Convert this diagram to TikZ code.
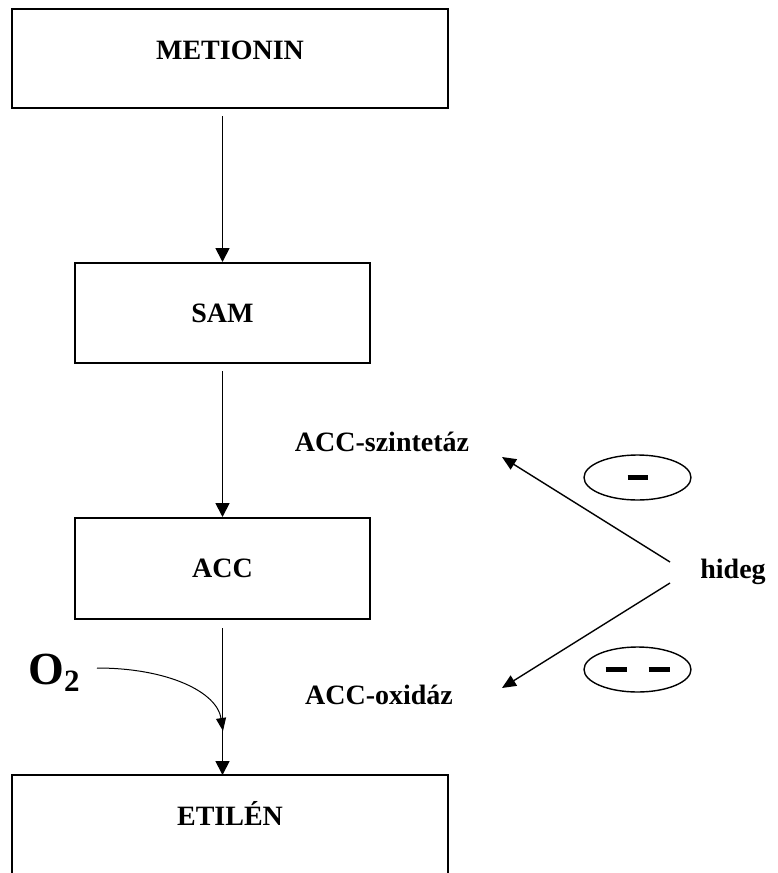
\documentclass[tikz,border=0pt]{standalone}
\usepackage{fontspec}
\setmainfont{Liberation Serif}
\usetikzlibrary{arrows.meta,shapes.geometric}
\begin{document}
\begin{tikzpicture}[x=1pt,y=-1pt,
  font=\fontsize{28}{30}\selectfont\bfseries,
  box/.style={draw, line width=2pt, inner sep=0pt},
  flowarrow/.style={line width=1.8pt, -{Triangle[length=14pt,width=14pt]}},
  coldarrow/.style={line width=1.4pt, -{Triangle[length=14pt,width=12pt]}},
  oxarrow/.style={line width=1pt, -{Triangle[length=13pt,width=10pt]}},
  oval/.style={draw, line width=1.4pt, ellipse, minimum width=107pt, minimum height=45pt, inner sep=0pt},
  lbl/.style={inner sep=0pt}]
\useasboundingbox (0,0) rectangle (778,873);
\clip (0,0) rectangle (778,873);
% boxes
\node[box, minimum width=436pt, minimum height=99pt, text depth=16pt] (metionin) at (230,58.5) {METIONIN};
\node[box, minimum width=295pt, minimum height=100pt] (sam) at (222.5,313) {SAM};
\node[box, minimum width=295pt, minimum height=101pt] (acc) at (222.5,568.5) {ACC};
\node[lbl, minimum width=436pt, minimum height=76pt, anchor=north] (etilen) at (230,775) {ETIL\'EN};
\draw[line width=2pt] ([yshift=-60pt]etilen.south west) -- (etilen.north west) -- (etilen.north east) -- ([yshift=-60pt]etilen.south east);
% main arrows
\draw[flowarrow] ([yshift=-7pt]sam.north |- metionin.south) -- (sam.north);
\draw[flowarrow] ([yshift=-7pt]sam.south) -- (acc.north);
\draw[flowarrow] ([yshift=-8pt]acc.south) -- (acc.south |- etilen.north);
% O2
\node[lbl, font=\fontsize{46}{48}\selectfont\bfseries] (o2) at (54,673) {O\raisebox{-7pt}{\fontsize{31}{31}\selectfont 2}};
\coordinate (o2start) at (97,668);
\coordinate (o2end) at (223,731);
\draw[oxarrow] (o2start) .. controls (168,668) and (217,692) .. (o2end);
% enzyme labels
\node[lbl] (szint) at (382,442) {ACC-szintetáz};
\node[lbl] (oxid) at (379,695) {ACC-oxidáz};
\node[lbl] (hideg) at (733,572) {hideg};
\coordinate (h1) at (670,562);
\coordinate (h2) at (670,583);
\coordinate (t1) at (502,457);
\coordinate (t2) at (502,688);
\draw[coldarrow] (h1) -- (t1);
\draw[coldarrow] (h2) -- (t2);
% ovals with minus signs
\node[oval] (e1) at (637.5,477.5) {\rule[-2.5pt]{20pt}{5pt}};
\node[oval] (e2) at (637.5,669.5) {\rule[-2.5pt]{21pt}{5pt}\hspace{22pt}\rule[-2.5pt]{21pt}{5pt}};
\end{tikzpicture}
\end{document}
